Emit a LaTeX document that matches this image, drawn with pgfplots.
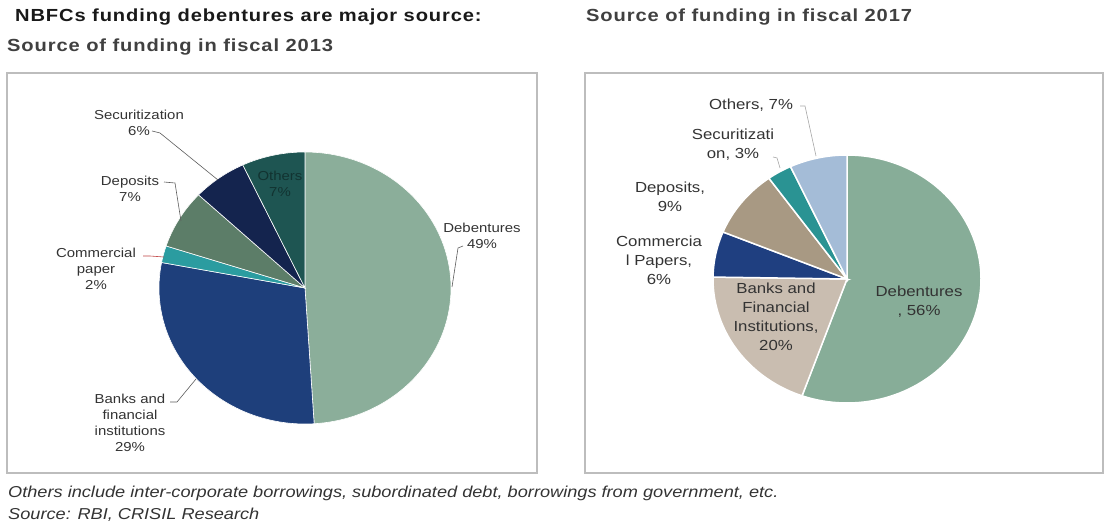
\documentclass[border=0pt]{standalone}
\usepackage{pgfplots}
\pgfplotsset{compat=1.18}
\usepackage{fontspec}
\setmainfont{Liberation Sans}[FakeStretch=1.15]
\newfontfamily\ttlfont{Liberation Sans}[FakeStretch=1.15, LetterSpace=5]

\definecolor{boxgray}{HTML}{BDBDBD}
\definecolor{txt}{HTML}{333333}
% fiscal 2013
\definecolor{debA}{HTML}{8BAE9A}
\definecolor{bankA}{HTML}{1E3F7B}
\definecolor{cpA}{HTML}{2B9CA0}
\definecolor{depA}{HTML}{5C7D68}
\definecolor{secA}{HTML}{14244E}
\definecolor{othA}{HTML}{1E5552}
% fiscal 2017
\definecolor{debB}{HTML}{87AD98}
\definecolor{bankB}{HTML}{C9BDB0}
\definecolor{cpB}{HTML}{1F3F80}
\definecolor{depB}{HTML}{A89983}
\definecolor{secB}{HTML}{2A9393}
\definecolor{othB}{HTML}{A4BCD7}

\newcommand\labA{\fontsize{13}{16}\selectfont}
\newcommand\labB{\fontsize{14.6}{19}\selectfont}
\newcommand\ttl{\ttlfont\bfseries\fontsize{17.5}{20}\selectfont}

% #1,#2 centre  #3,#4 radii  #5 share before  #6 share  #7 total  #8 style
\newcommand{\pieslice}[8]{%
  \pgfmathsetmacro\angA{90-(#5+#6)/#7*360}%
  \pgfmathsetmacro\angB{90-#5/#7*360}%
  \addplot[#8, draw=white, domain=\angA:\angB, samples=90, variable=\t]
    ({#1+#3*cos(\t)}, {#2+#4*sin(\t)}) -- (#1,#2) -- cycle;}

\pgfplotsset{piebox/.style={
    anchor=south west, scale only axis,
    axis line style={draw=boxgray, line width=1.2pt},
    xtick=\empty, ytick=\empty, clip=false}}
\tikzset{lblA/.style={align=center, text=txt, inner sep=0, font=\labA},
         lblB/.style={align=center, text=txt, inner sep=0, font=\labB}}

\begin{document}
\begin{tikzpicture}
\path[use as bounding box] (0,0) rectangle (1107pt,-526pt);

\node[anchor=west, inner sep=0, text=black!90] at (15pt,-17pt) {\ttl NBFCs funding debentures are major source:};
\node[anchor=west, inner sep=0, text=black!75] at (7pt,-47pt) {\ttl Source of funding in fiscal 2013};
\node[anchor=west, inner sep=0, text=black!75] at (586pt,-17pt) {\ttl Source of funding in fiscal 2017};

% ---------- fiscal 2013 ----------
\begin{axis}[piebox, at={(7pt,-473pt)}, width=530pt, height=400pt,
    xmin=7, xmax=537, ymin=-473, ymax=-73]
\pieslice{305}{-288}{146}{136}{0}{49}{100}{fill=debA, line width=0.6pt}
\pieslice{305}{-288}{146}{136}{49}{29}{100}{fill=bankA, line width=0.6pt}
\pieslice{305}{-288}{146}{136}{78}{2}{100}{fill=cpA, line width=0.6pt}
\pieslice{305}{-288}{146}{136}{80}{7}{100}{fill=depA, line width=0.6pt}
\pieslice{305}{-288}{146}{136}{87}{6}{100}{fill=secA, line width=0.6pt}
\pieslice{305}{-288}{146}{136}{93}{7}{100}{fill=othA, line width=0.6pt}

\draw[txt!80, line width=0.6pt] (152,-131) -- (160,-133) -- (218,-180);
\draw[txt!80, line width=0.6pt] (164,-182) -- (175,-183) -- (181,-221);
\draw[red!50!gray, line width=0.6pt] (143,-256) -- (150,-256) -- (164,-257);
\draw[txt!80, line width=0.6pt] (463,-246) -- (458,-248) -- (452,-287);
\draw[txt!80, line width=0.6pt] (170,-402) -- (177,-402) -- (196,-379);

\node[lblA] at (139,-123) {Securitization\\6\%};
\node[lblA] at (130,-189) {Deposits\\7\%};
\node[lblA] at (96,-269) {Commercial\\paper\\2\%};
\node[lblA] at (482,-236) {Debentures\\49\%};
\node[lblA] at (130,-423) {Banks and\\financial\\institutions\\29\%};
\node[lblA, text=othA!60!black] at (280,-184) {Others\\7\%};
\end{axis}

% ---------- fiscal 2017 ----------
\begin{axis}[piebox, at={(585pt,-473pt)}, width=518pt, height=400pt,
    xmin=585, xmax=1103, ymin=-473, ymax=-73]
\pieslice{847}{-279}{134}{124}{0}{56}{101}{fill=debB, line width=1.5pt}
\pieslice{847}{-279}{134}{124}{56}{20}{101}{fill=bankB, line width=1.5pt}
\pieslice{847}{-279}{134}{124}{76}{6}{101}{fill=cpB, line width=1.5pt}
\pieslice{847}{-279}{134}{124}{82}{9}{101}{fill=depB, line width=1.5pt}
\pieslice{847}{-279}{134}{124}{91}{3}{101}{fill=secB, line width=1.5pt}
\pieslice{847}{-279}{134}{124}{94}{7}{101}{fill=othB, line width=1.5pt}

\draw[black!35, line width=0.6pt] (800,-106) -- (805,-106) -- (816,-156);
\draw[black!35, line width=0.6pt] (773,-157) -- (777,-158) -- (780,-168);

\node[lblB] at (751,-105) {Others, 7\%};
\node[lblB] at (733,-145) {Securitizati\\on, 3\%};
\node[lblB] at (670,-197) {Deposits,\\9\%};
\node[lblB] at (659,-260) {Commercia\\l Papers,\\6\%};
\node[lblB] at (776,-317) {Banks and\\Financial\\Institutions,\\20\%};
\node[lblB] at (919,-302) {Debentures\\, 56\%};
\end{axis}

\node[anchor=west, inner sep=0, text=txt] at (8pt,-493pt) {\fontsize{15.8}{18}\selectfont\itshape Others include inter-corporate borrowings, subordinated debt, borrowings from government, etc.};
\node[anchor=west, inner sep=0, text=txt] at (8pt,-515pt) {\fontsize{15.8}{18}\selectfont\itshape Source: RBI, CRISIL Research};
\end{tikzpicture}
\end{document}
